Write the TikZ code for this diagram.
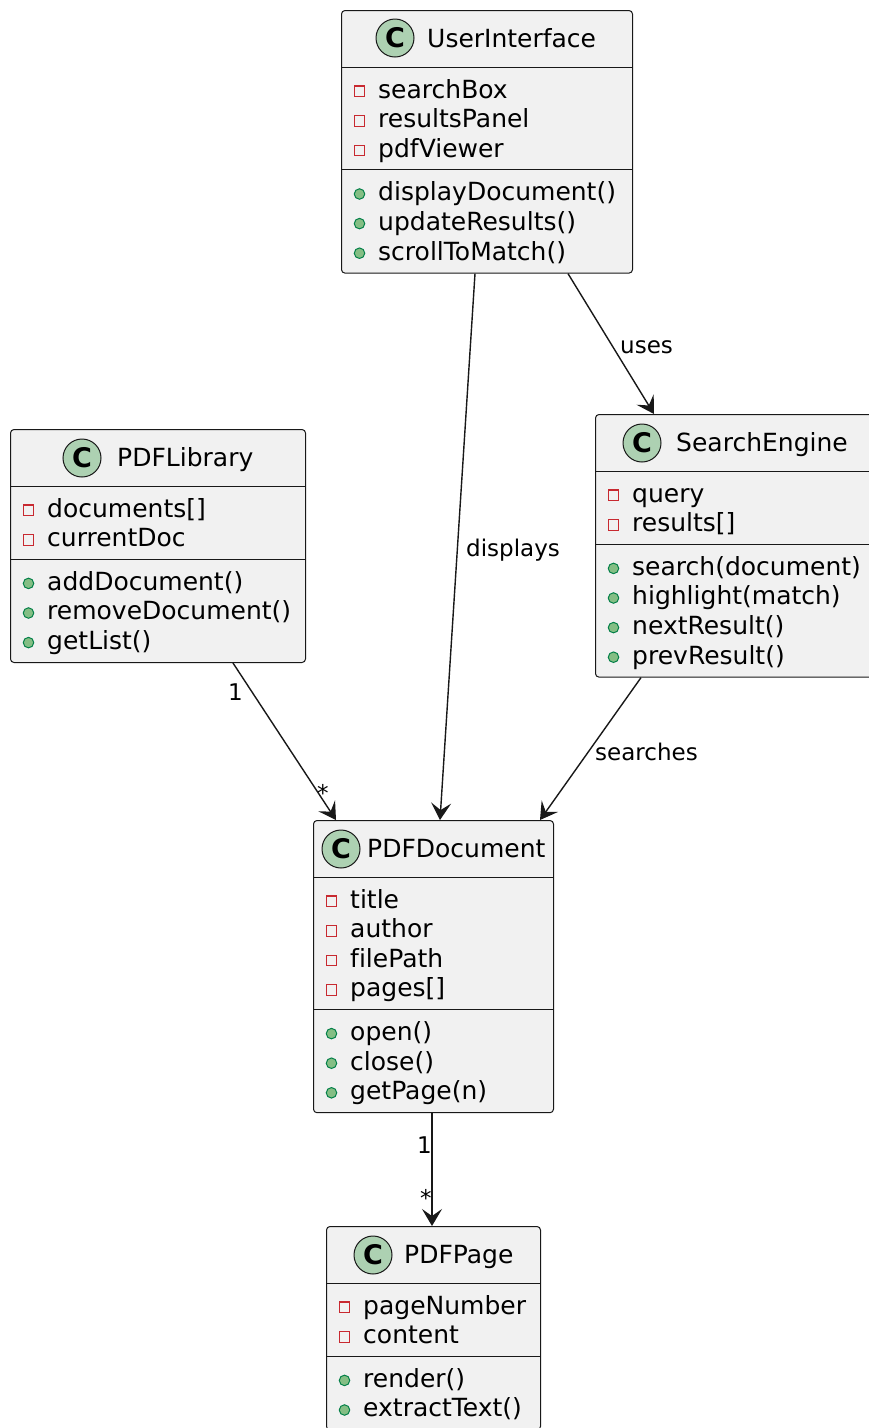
\documentclass[tikz,border=0pt]{standalone}
\usepackage{fontspec}
\setmainfont{DejaVu Sans}[Ligatures=NoCommon]
\usetikzlibrary{arrows.meta,calc}

\definecolor{boxfill}{HTML}{F1F1F1}
\definecolor{boxline}{HTML}{181818}
\definecolor{privline}{HTML}{C82930}
\definecolor{pubfill}{HTML}{84BE84}
\definecolor{publine}{HTML}{038048}
\definecolor{iconfill}{HTML}{ADD1B2}

\tikzset{
  classbox/.style={draw=boxline, fill=boxfill, line width=1pt, rounded corners=3.5pt,
    inner sep=0, anchor=north west},
  sepline/.style={draw=boxline, line width=1pt},
  classicon/.style={circle, draw=boxline, fill=iconfill, line width=1pt, minimum size=38pt,
    inner sep=0, font=\fontsize{27}{27}\selectfont\bfseries},
  classname/.style={anchor=base west, inner sep=0, font=\fontsize{25}{30}\selectfont},
  rowtext/.style={anchor=base west, inner sep=0, font=\fontsize{25}{30}\selectfont},
  privmark/.style={rectangle, draw=privline, line width=1.1pt, minimum size=10.5pt, inner sep=0},
  pubmark/.style={circle, draw=publine, fill=pubfill, line width=1pt, minimum size=10.5pt, inner sep=0},
  assoc/.style={draw=boxline, line width=1.4pt, -{Stealth[length=17pt,width=20pt,inset=7pt]}},
  edgelabel/.style={anchor=base west, inner sep=0, font=\fontsize{23}{27}\selectfont},
}

% class frame: id, left, top, width, number of fields, number of operations
\newcommand{\umlclass}[6]{%
  \pgfmathsetmacro{\sepB}{57+29.6*#5+14}
  \pgfmathsetmacro{\boxH}{\sepB+29.6*#6+14}
  \node[classbox, minimum width=#4pt, minimum height=\boxH pt] (#1) at (#2,-#3) {};
  \draw[sepline] ([yshift=-57pt]#1.north west) -- ([yshift=-57pt]#1.north east);
  \draw[sepline] ([yshift=-\sepB pt]#1.north west) -- ([yshift=-\sepB pt]#1.north east);
}
% private fields of a class
\newcommand{\umlfields}[2]{%
  \foreach \txt [count=\k from 0] in {#2} {
    \pgfmathsetmacro{\yb}{88+29.6*\k}
    \node[privmark] (#1-fm\k) at ([shift={(18.5pt,-\yb pt+6.8pt)}]#1.north west) {};
    \node[rowtext] (#1-f\k) at ([shift={(37pt,-\yb pt)}]#1.north west) {\txt};
  }
}
% public operations of a class (after \umlclass of the same class)
\newcommand{\umlops}[2]{%
  \foreach \txt [count=\k from 0] in {#2} {
    \pgfmathsetmacro{\yb}{\sepB+31+29.6*\k}
    \node[pubmark] (#1-om\k) at ([shift={(18.5pt,-\yb pt+6.8pt)}]#1.north west) {};
    \node[rowtext] (#1-o\k) at ([shift={(37pt,-\yb pt)}]#1.north west) {\txt};
  }
}

\begin{document}
\begin{tikzpicture}[x=1pt,y=1pt]
\useasboundingbox (0,0) rectangle (869,-1428);
\clip (0,0) rectangle (869,-1428);

% UserInterface
\umlclass{ui}{341}{10}{291}{3}{3}
\node[classicon] (ui-icon) at (395,-38) {C};
\node[classname] (ui-name) at (427,-47) {UserInterface};
\umlfields{ui}{searchBox,resultsPanel,pdfViewer}
\umlops{ui}{displayDocument(),updateResults(),scrollToMatch()}

% SearchEngine
\umlclass{se}{595}{414}{285}{2}{4}
\node[classicon] (se-icon) at (642,-443) {C};
\node[classname] (se-name) at (676,-451) {SearchEngine};
\umlfields{se}{query,results[]}
\umlops{se}{search(document),highlight(match),nextResult(),prevResult()}

% PDFLibrary
\umlclass{lib}{10}{429}{295}{2}{3}
\node[classicon] (lib-icon) at (82,-458) {C};
\node[classname] (lib-name) at (117,-466) {PDFLibrary};
\umlfields{lib}{documents[],currentDoc}
\umlops{lib}{addDocument(),removeDocument(),getList()}

% PDFDocument
\umlclass{doc}{313}{820}{240}{4}{3}
\node[classicon] (doc-icon) at (341,-849) {C};
\node[classname] (doc-name) at (367,-857) {PDFDocument};
\umlfields{doc}{title,author,filePath,pages[]}
\umlops{doc}{open(),close(),getPage(n)}

% PDFPage
\umlclass{page}{326}{1226}{214}{2}{2}
\node[classicon] (page-icon) at (373,-1255) {C};
\node[classname] (page-name) at (404,-1263) {PDFPage};
\umlfields{page}{pageNumber,content}
\umlops{page}{render(),extractText()}

% associations
\draw[assoc] ([xshift=134pt]ui.south west) -- ([xshift=127pt]doc.north west);
\draw[assoc] ([xshift=227pt]ui.south west) -- ([xshift=59pt]se.north west);
\draw[assoc] ([xshift=223pt]lib.south west) -- ([xshift=23pt]doc.north west);
\draw[assoc] ([xshift=46pt]se.south west) -- ([xshift=227pt]doc.north west);
\draw[assoc] ([xshift=119pt]doc.south west) -- ([xshift=106pt]page.north west);

% association labels and multiplicities
\node[edgelabel] (lbl-displays) at (466,-556) {displays};
\node[edgelabel] (lbl-uses) at (620,-353) {uses};
\node[edgelabel] (lbl-searches) at (595,-760) {searches};
\node[edgelabel] (lbl-lib1) at (228,-700) {1};
\node[edgelabel] (lbl-libstar) at (317,-801) {*};
\node[edgelabel] (lbl-page1) at (417,-1153) {1};
\node[edgelabel] (lbl-pagestar) at (420,-1206) {*};
\end{tikzpicture}
\end{document}
